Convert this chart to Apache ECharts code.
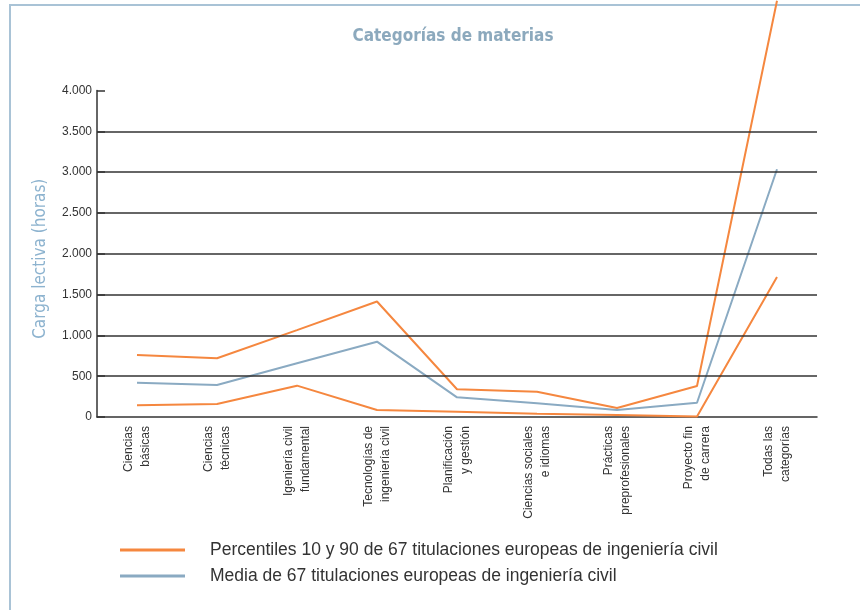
<!DOCTYPE html>
<html>
<head>
<meta charset="utf-8">
<script src="https://cdn.jsdelivr.net/npm/echarts@6/dist/echarts.min.js"></script>
<style>
html,body{margin:0;padding:0;background:#fff;}
#main{width:860px;height:610px;}
</style>
</head>
<body>
<div id="main"></div>
<script>
// categorías del eje x
var categorias = ['Ciencias\nbásicas', 'Ciencias\ntécnicas', 'Igeniería civil\nfundamental', 'Tecnologías de\ningeniería civil',
	'Planificación\ny gestión', 'Ciencias sociales\ne idiomas', 'Prácticas\npreprofesionales', 'Proyecto fin\nde carrera', 'Todas las\ncategorías'];
var percentil90 = [760, 720, 1065, 1415, 340, 310, 110, 380, 5100];
var percentil10 = [143, 160, 384, 86, 65, 40, 25, 5, 1715];
var media = [420, 392, 658, 923, 241, 168, 86, 175, 3035];
var lineasY = [500, 1000, 1500, 2000, 2500, 3000, 3500]; // lineas horizontales

var nombreP = 'Percentiles 10 y 90 de 67 titulaciones europeas de ingeniería civil';
var nombreM = 'Media de 67 titulaciones europeas de ingeniería civil';
var naranja = '#f5873f';
var azul = '#8aaac2';
var fuente = "'Liberation Sans Narrow', 'DejaVu Sans Condensed', sans-serif";

var myChart = echarts.init(document.getElementById('main'));
myChart.setOption({
	animation: false,
	title: {
		text: 'Categorías de materias',
		left: 448,
		textAlign: 'center',
		top: 23,
		textStyle: { color: '#8ca9bd', fontSize: 17, fontWeight: 'bold', fontFamily: fuente }
	},
	grid: { left: 97, right: 43, top: 90.5, bottom: 193 },
	legend: {
		orient: 'vertical',
		left: 115,
		top: 536,
		icon: 'rect',
		itemWidth: 65,
		itemHeight: 3,
		itemGap: 8,
		data: [nombreP, nombreM],
		textStyle: { color: '#333', fontSize: 17.5, fontFamily: 'Liberation Sans', padding: [0, 0, 0, 20] }
	},
	xAxis: {
		type: 'category',
		data: categorias,
		boundaryGap: true,
		axisLine: { lineStyle: { color: '#333', width: 1.5 } },
		axisTick: { inside: true, length: 8, alignWithLabel: true, lineStyle: { color: '#333', width: 1.5 } },
		axisLabel: { rotate: 90, margin: 9, color: '#333', fontSize: 12, lineHeight: 17, fontFamily: 'Liberation Sans', interval: 0 },
		splitLine: { show: false }
	},
	yAxis: {
		type: 'value',
		min: 0,
		max: 4000,
		interval: 500,
		name: 'Carga lectiva (horas)',
		nameLocation: 'middle',
		nameGap: 48,
		nameTextStyle: { color: '#8db3cf', fontSize: 17, fontFamily: fuente, padding: [0, 10, 0, 0] },
		axisLine: { show: true, lineStyle: { color: '#333', width: 1.5 } },
		axisTick: { show: true, inside: true, length: 8, lineStyle: { color: '#333', width: 1.5 } },
		axisLabel: {
			color: '#333', fontSize: 12, margin: 5, fontFamily: 'Liberation Sans',
			formatter: function(v) {
				return String(v).replace(/\B(?=(\d{3})+(?!\d))/g, '.');
			}
		},
		splitLine: { show: false }
	},
	series: [{
		name: nombreP,
		type: 'line',
		data: percentil90,
		symbol: 'none',
		clip: false,
		z: 3,
		lineStyle: { color: naranja, width: 2 },
		itemStyle: { color: naranja },
		markLine: {
			silent: true,
			symbol: 'none',
			label: { show: false },
			lineStyle: { color: '#333', width: 1.5, type: 'solid' },
			data: lineasY.map(function(v) { return { yAxis: v }; })
		}
	}, {
		name: nombreP,
		type: 'line',
		data: percentil10,
		symbol: 'none',
		z: 3,
		lineStyle: { color: naranja, width: 2 },
		itemStyle: { color: naranja }
	}, {
		name: nombreM,
		type: 'line',
		data: media,
		symbol: 'none',
		z: 3,
		lineStyle: { color: azul, width: 2 },
		itemStyle: { color: azul }
	}],
	graphic: [{
		type: 'polyline',
		shape: { points: [[10, 610], [10, 5], [860, 5]] },
		style: { stroke: '#a9c3d6', lineWidth: 2, fill: null }
	}]
});
</script>
</body>
</html>
